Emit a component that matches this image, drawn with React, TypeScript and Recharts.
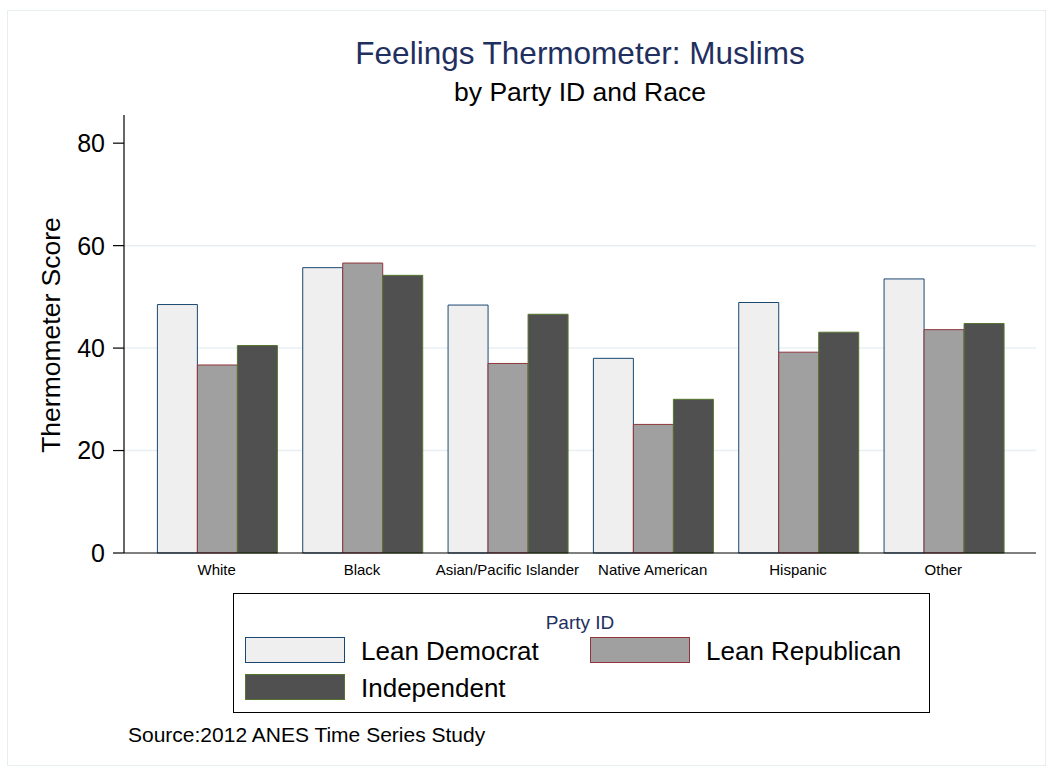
import { BarChart, Bar, XAxis, YAxis, CartesianGrid } from 'recharts'

const races = ['White', 'Black', 'Asian/Pacific Islander', 'Native American', 'Hispanic', 'Other']
const leanDemocrat = [48.5, 55.7, 48.4, 38.0, 48.9, 53.5]
const leanRepublican = [36.7, 56.6, 37.0, 25.1, 39.2, 43.6]
const independent = [40.5, 54.2, 46.6, 30.0, 43.1, 44.8]
const yTicks = [0, 20, 40, 60, 80]
const gridValues = [20, 40, 60]

const data = races.map((race, i) => ({
  race,
  dem: leanDemocrat[i],
  rep: leanRepublican[i],
  ind: independent[i],
}))

const FONT = '"Liberation Sans", Helvetica, Arial, sans-serif'
const NAVY = '#1f3060'

const series = [
  { key: 'dem', name: 'Lean Democrat', fill: '#efefef', stroke: '#1a476f' },
  { key: 'rep', name: 'Lean Republican', fill: '#a0a0a0', stroke: '#90353b' },
  { key: 'ind', name: 'Independent', fill: '#505050', stroke: '#55752f' },
]

function Swatch({ x, y, fill, stroke }: { x: number; y: number; fill: string; stroke: string }) {
  return (
    <div style={{
      position: 'absolute', left: x, top: y, width: 100, height: 26,
      background: fill, border: `1px solid ${stroke}`, boxSizing: 'border-box',
    }} />
  )
}

function LegendText({ x, y, children }: { x: number; y: number; children: string }) {
  return (
    <div style={{ position: 'absolute', left: x, top: y, fontSize: 26, lineHeight: 1, whiteSpace: 'nowrap', color: '#000' }}>
      {children}
    </div>
  )
}

export default function App() {
  return (
    <div style={{ position: 'absolute', left: 0, top: 0, width: 1054, height: 776, background: '#fff', fontFamily: FONT }}>
      <div style={{
        position: 'absolute', left: 7, top: 10, width: 1039, height: 756,
        border: '1px solid #e8eff1', boxSizing: 'border-box',
      }} />

      <div style={{ position: 'absolute', left: 580, top: 38.3, transform: 'translateX(-50%)', fontSize: 31.5, lineHeight: 1, color: NAVY, whiteSpace: 'nowrap' }}>
        Feelings Thermometer: Muslims
      </div>
      <div style={{ position: 'absolute', left: 580, top: 78.6, transform: 'translateX(-50%)', fontSize: 26.5, lineHeight: 1, color: '#000', whiteSpace: 'nowrap' }}>
        by Party ID and Race
      </div>

      <div style={{ position: 'absolute', left: 0, top: 0 }}>
        <BarChart
          width={1054}
          height={776}
          data={data}
          margin={{ top: 115, right: 18, bottom: 193, left: 64 }}
          barCategoryGap={13.4}
          barGap={0}
        >
          <CartesianGrid vertical={false} horizontalValues={gridValues} stroke="#e8eff2" strokeWidth={1.5} />
          <XAxis
            dataKey="race"
            height={30}
            padding={{ left: 20, right: 20 }}
            axisLine={{ stroke: '#000', strokeWidth: 1.2 }}
            tickLine={false}
            tickSize={0}
            tickMargin={11}
            interval={0}
            tick={{ fontSize: 15, fill: '#000', fontFamily: FONT }}
          />
          <YAxis
            width={60}
            domain={[0, 85.5]}
            ticks={yTicks}
            interval={0}
            axisLine={{ stroke: '#000', strokeWidth: 1.2 }}
            tickLine={{ stroke: '#000', strokeWidth: 1.2 }}
            tickSize={11}
            tickMargin={8}
            tick={{ fontSize: 25, fill: '#000', fontFamily: FONT }}
          />
          {series.map(s => (
            <Bar
              key={s.key}
              dataKey={s.key}
              name={s.name}
              fill={s.fill}
              stroke={s.stroke}
              strokeWidth={1}
              isAnimationActive={false}
            />
          ))}
        </BarChart>
      </div>

      <div style={{
        position: 'absolute', left: 51, top: 335, transform: 'translate(-50%, -50%) rotate(-90deg)',
        fontSize: 26.5, lineHeight: 1, whiteSpace: 'nowrap', color: '#000',
      }}>
        Thermometer Score
      </div>

      <div style={{
        position: 'absolute', left: 233, top: 593, width: 697, height: 120,
        border: '1.5px solid #000', boxSizing: 'border-box',
      }} />
      <div style={{ position: 'absolute', left: 580, top: 612.7, transform: 'translateX(-50%)', fontSize: 19, lineHeight: 1, color: NAVY, whiteSpace: 'nowrap' }}>
        Party ID
      </div>
      <Swatch x={245} y={637} fill={series[0].fill} stroke={series[0].stroke} />
      <LegendText x={361} y={638.3}>{series[0].name}</LegendText>
      <Swatch x={590} y={637} fill={series[1].fill} stroke={series[1].stroke} />
      <LegendText x={706} y={638.3}>{series[1].name}</LegendText>
      <Swatch x={245} y={674} fill={series[2].fill} stroke={series[2].stroke} />
      <LegendText x={361} y={675.3}>{series[2].name}</LegendText>

      <div style={{ position: 'absolute', left: 128, top: 724.2, fontSize: 21, lineHeight: 1, whiteSpace: 'nowrap', color: '#000' }}>
        Source:2012 ANES Time Series Study
      </div>
    </div>
  )
}
